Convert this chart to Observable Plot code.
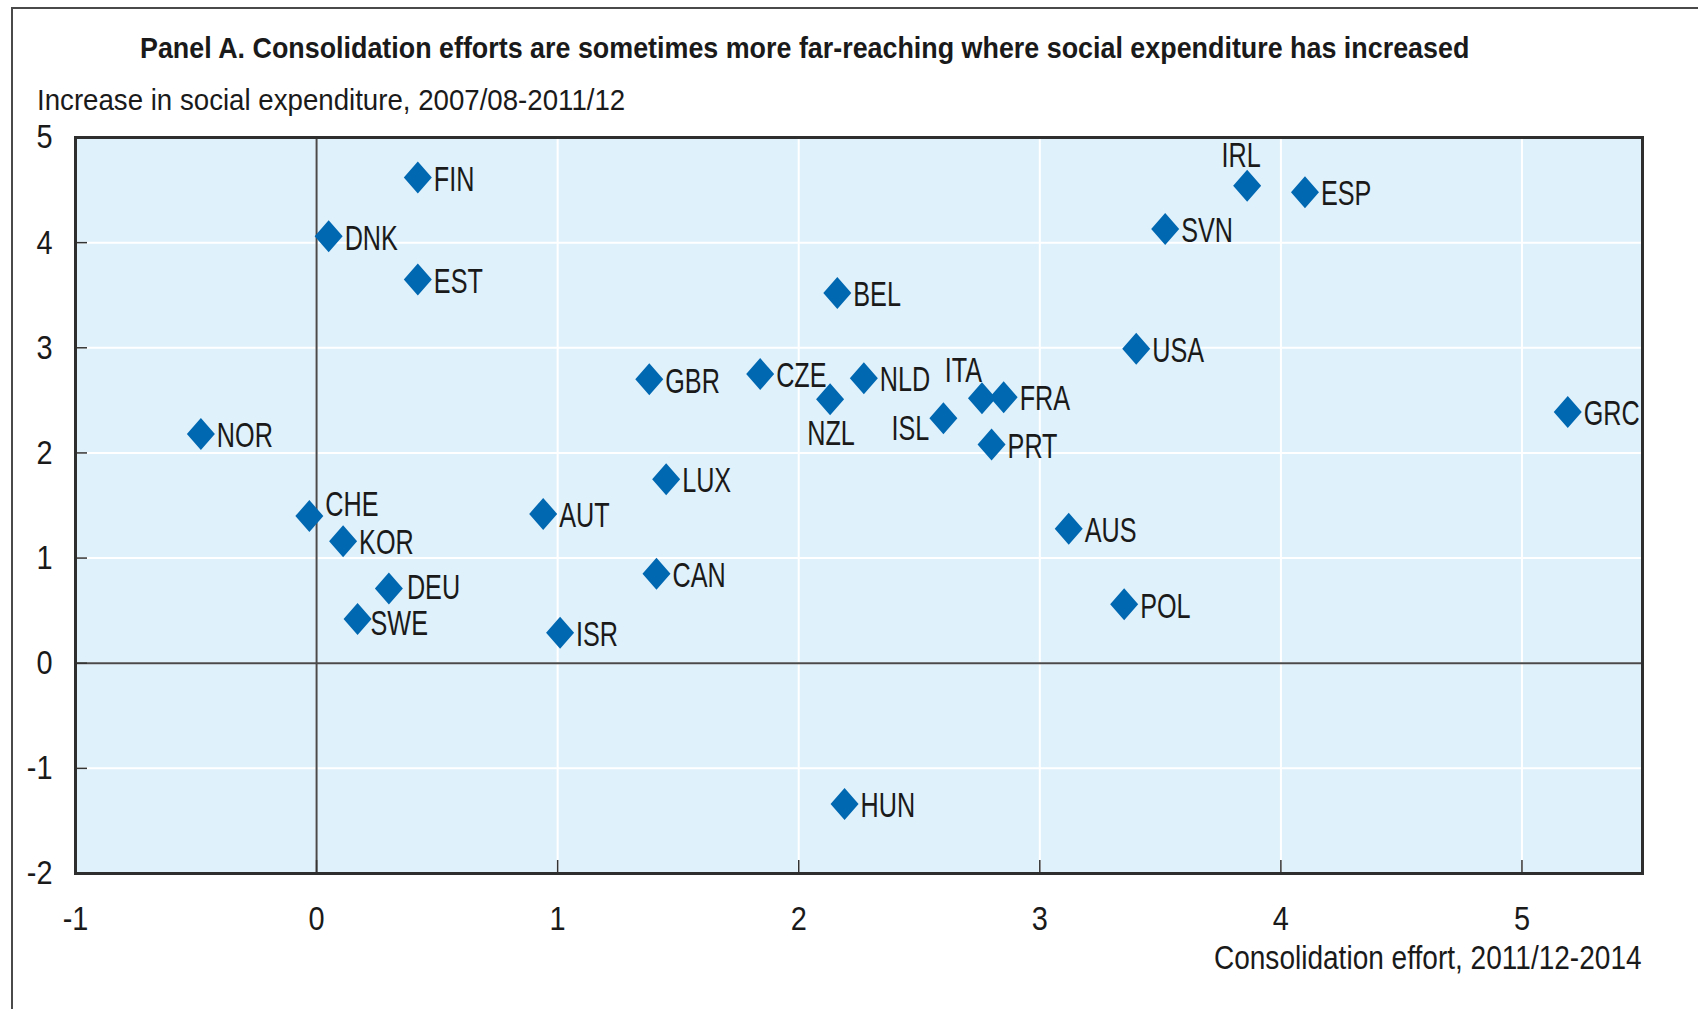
<!DOCTYPE html>
<html>
<head>
<meta charset="utf-8">
<script src="https://cdn.jsdelivr.net/npm/d3@7"></script>
<script src="https://cdn.jsdelivr.net/npm/@observablehq/plot@0.6"></script>
<style>
  html, body { margin: 0; padding: 0; background: #ffffff; }
  body { font-family: "Liberation Sans Narrow", "Arial Narrow", "Liberation Sans", Arial, sans-serif; color: #1a1a1a; }
  #wrap { position: relative; width: 1698px; height: 1009px; overflow: hidden; }
  #border { position: absolute; left: 11px; top: 7px; width: 3000px; height: 3000px;
            border-left: 2px solid #4a4a4a; border-top: 2px solid #4a4a4a; pointer-events: none; }
  #header { position: relative; height: 120px; }
  #title { position: absolute; left: 140px; top: 33px; font-size: 30px; line-height: 30px;
           font-weight: bold; white-space: nowrap; transform-origin: left center; color: #1a1a1a; }
  #subtitle { position: absolute; left: 37px; top: 85px; font-size: 30px; line-height: 30px;
              white-space: nowrap; transform-origin: left center; color: #1a1a1a; }
  #chart svg { display: block; }
  #footer { position: relative; height: 69px; }
  #xtitle { position: absolute; right: 56px; top: 0px; font-size: 34px; line-height: 34px;
            white-space: nowrap; transform-origin: right center; color: #1a1a1a; }
</style>
</head>
<body>
<div id="wrap">
  <div id="border"></div>
  <div id="header">
    <div id="title"></div>
    <div id="subtitle"></div>
  </div>
  <div id="chart"></div>
  <div id="footer"><div id="xtitle"></div></div>
</div>
<script>
// ---- Data ----
const titleText = "Panel A. Consolidation efforts are sometimes more far-reaching where social expenditure has increased";
const yAxisTitle = "Increase in social expenditure, 2007/08-2011/12";
const xAxisTitle = "Consolidation effort, 2011/12-2014";

const countries = ["FIN","DNK","EST","NOR","CHE","KOR","DEU","SWE","AUT","ISR","CAN","LUX","GBR","CZE","NZL",
                   "BEL","NLD","ISL","ITA","FRA","PRT","HUN","AUS","POL","USA","SVN","IRL","ESP","GRC"];
const consolidationEffort = [0.42, 0.05, 0.42, -0.48, -0.03, 0.11, 0.30, 0.17, 0.94, 1.01, 1.41, 1.45, 1.38, 1.84, 2.13,
                             2.16, 2.27, 2.60, 2.76, 2.85, 2.80, 2.19, 3.12, 3.35, 3.40, 3.52, 3.86, 4.10, 5.19];
const socialIncrease = [4.62, 4.06, 3.65, 2.18, 1.40, 1.16, 0.71, 0.42, 1.42, 0.29, 0.85, 1.75, 2.70, 2.75, 2.51,
                        3.52, 2.71, 2.33, 2.52, 2.53, 2.08, -1.34, 1.28, 0.56, 2.99, 4.13, 4.54, 4.48, 2.39];

const xTicks = [-1, 0, 1, 2, 3, 4, 5];
const yTicks = [-2, -1, 0, 1, 2, 3, 4, 5];

// label placement (style, not data)
const labelSide = { CHE: "upright", IRL: "above", ITA: "aboveleft", NZL: "below", ISL: "left",
                    DEU: "rightup", SWE: "rightdown" };

// ---- Styles ----
const BLUE = "#0067b1";
const INK = "#1a1a1a";
const FONT = '"Liberation Sans Narrow", "Arial Narrow", "Liberation Sans", Arial, sans-serif';

const titleEl = document.getElementById("title");
const subEl = document.getElementById("subtitle");
const xtEl = document.getElementById("xtitle");
titleEl.textContent = titleText;
subEl.textContent = yAxisTitle;
xtEl.textContent = xAxisTitle;
// fit header/footer texts to the reference's (condensed) widths
titleEl.style.transform = `scaleX(${1329 / titleEl.offsetWidth})`;
subEl.style.transform = `scaleX(${588 / subEl.offsetWidth})`;
xtEl.style.transform = `scaleX(${428 / xtEl.offsetWidth})`;

const points = countries.map((c, i) => ({
  country: c, x: consolidationEffort[i], y: socialIncrease[i], side: labelSide[c] || "right"
}));

// diamond slightly taller than wide
const diamond = {
  draw(context, size) {
    const h = Math.sqrt(size / Math.PI), w = h * 0.875;
    context.moveTo(0, -h); context.lineTo(w, 0); context.lineTo(0, h); context.lineTo(-w, 0); context.closePath();
  }
};

const placements = {
  right:     { textAnchor: "start",  dx: 16,  dy: 2 },
  rightup:   { textAnchor: "start",  dx: 18,  dy: -1 },
  rightdown: { textAnchor: "start",  dx: 13,  dy: 5 },
  upright:   { textAnchor: "start",  dx: 16,  dy: -11 },
  above:     { textAnchor: "middle", dx: -6,  dy: -30 },
  aboveleft: { textAnchor: "end",    dx: 0,   dy: -27 },
  below:     { textAnchor: "middle", dx: 1,   dy: 34 },
  left:      { textAnchor: "end",    dx: -14, dy: 11 }
};

const labelMarks = Object.entries(placements).map(([side, opt]) =>
  Plot.text(points.filter(d => d.side === side), {
    x: "x", y: "y", text: "country", fill: INK, fontSize: 35, className: "clabel", ...opt
  })
);

const chart = Plot.plot({
  width: 1698,
  height: 820,
  marginLeft: 75,
  marginRight: 56,
  marginTop: 17,
  marginBottom: 67,
  style: { fontFamily: FONT, color: INK, background: "transparent", overflow: "visible" },
  x: { domain: [-1, 5.5] },
  y: { domain: [-2, 5] },
  marks: [
    Plot.frame({ fill: "#dff1fb", stroke: "none" }),
    Plot.ruleX(xTicks, { stroke: "#ffffff", strokeWidth: 2 }),
    Plot.ruleY(yTicks, { stroke: "#ffffff", strokeWidth: 2 }),
    Plot.ruleX([0], { stroke: "#4a4a4a", strokeWidth: 2 }),
    Plot.ruleY([0], { stroke: "#4a4a4a", strokeWidth: 2 }),
    Plot.axisY(yTicks, { anchor: "left", tickSize: 12, dx: 12, tickPadding: 23, fontSize: 34, className: "tlabel",
                         tickFormat: d => String(d), label: null, stroke: "#333", strokeWidth: 1.5, fill: INK }),
    Plot.axisX(xTicks, { anchor: "bottom", tickSize: 13, dy: -13, tickPadding: 32, fontSize: 34, className: "tlabel",
                         tickFormat: d => String(d), label: null, stroke: "#333", strokeWidth: 1.5, fill: INK }),
    Plot.frame({ stroke: "#2e2e2e", strokeWidth: 3 }),
    Plot.dot(points, { x: "x", y: "y", symbol: diamond, r: 16, fill: BLUE, stroke: "none" }),
    ...labelMarks
  ]
});

document.getElementById("chart").appendChild(chart);

// the reference uses a condensed face: squeeze glyphs horizontally
function condense(selector, factor) {
  chart.querySelectorAll(selector).forEach(t => {
    const L = t.getComputedTextLength();
    t.setAttribute("textLength", (L * factor).toFixed(1));
    t.setAttribute("lengthAdjust", "spacingAndGlyphs");
  });
}
condense(".clabel text", 0.72);
condense(".tlabel text", 0.85);
</script>
</body>
</html>
